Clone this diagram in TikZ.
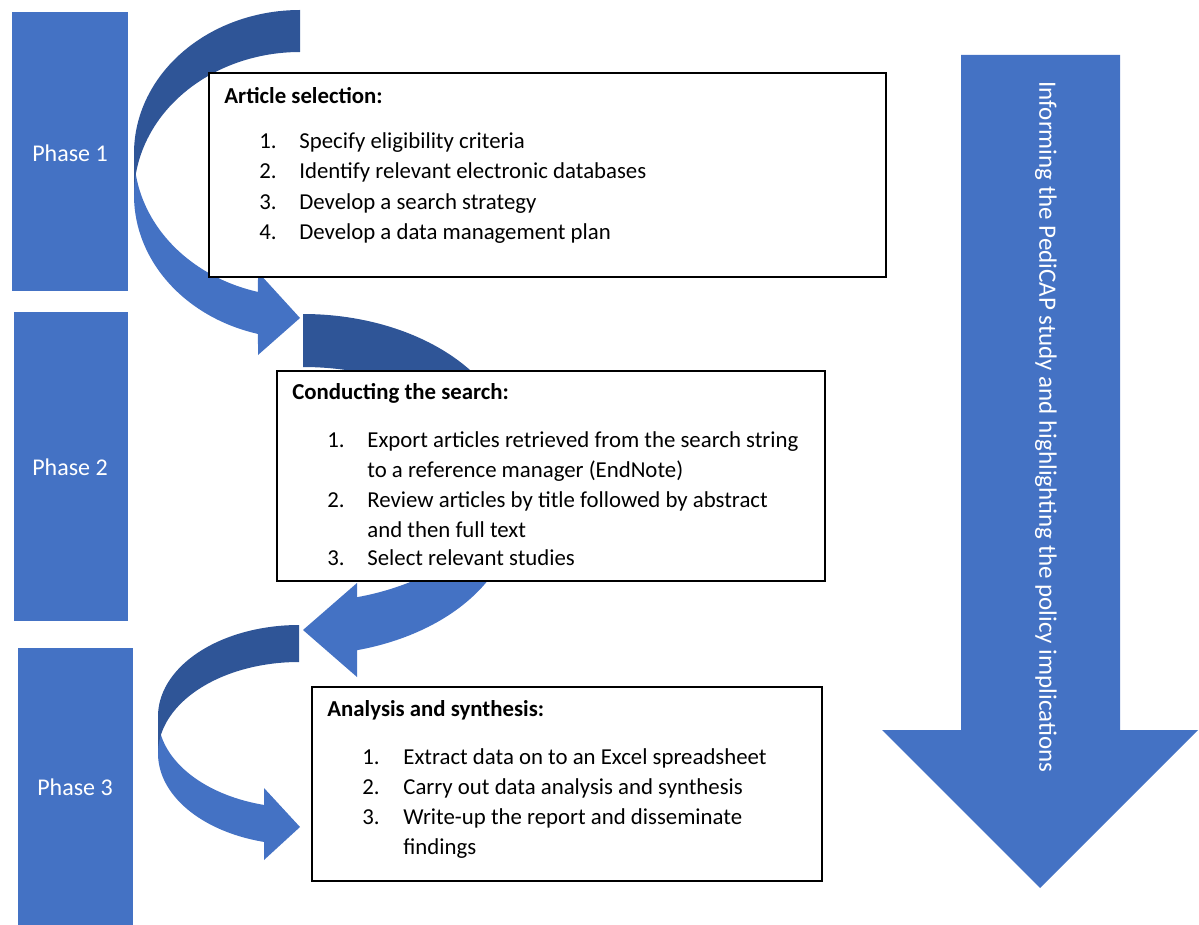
\documentclass[tikz,border=0pt]{standalone}
\usepackage{fontspec}
\setmainfont{Carlito}
\definecolor{accent}{HTML}{4472C4}
\definecolor{accentdark}{HTML}{2F5597}
\begin{document}
\begin{tikzpicture}[x=0.5pt,y=-0.5pt,
  phasebox/.style={fill=accent},
  stepbox/.style={draw=black, line width=0.7pt, fill=white},
  bodyfont/.style={font=\fontsize{11.4}{15}\selectfont},
  heading/.style={anchor=base west, inner sep=0pt, font=\fontsize{11.4}{15}\selectfont\bfseries},
  num/.style={anchor=base west, inner sep=0pt, bodyfont},
  item/.style={anchor=base west, inner sep=0pt, bodyfont},
  phaselabel/.style={text=white, inner sep=0pt, font=\fontsize{12}{14}\selectfont},
  front/.style={fill=accent},
  back/.style={fill=accentdark},
]
\useasboundingbox (0,0) rectangle (1199,925);

% phase bars
\path[phasebox] (12,12) rectangle (128,291);
\path[phasebox] (14,312) rectangle (128,621);
\path[phasebox] (18,648) rectangle (133,925);
\node[phaselabel] (p1) at (70,153) {Phase 1};
\node[phaselabel] (p2) at (70,467) {Phase 2};
\node[phaselabel] (p3) at (75,787) {Phase 3};

% curved arrow from phase 1 to phase 2 (front face, then back face)
\fill[front] plot[domain=180:104.66,samples=60] ({300+166*cos(\x)},{153.3+143.3*sin(\x)})
  -- (258,272) -- (300,318) -- (258,355)
  -- plot[domain=104.66:180,samples=60] ({300+166*cos(\x)},{195.3+143.3*sin(\x)}) -- cycle;
\fill[back] plot[domain=270:180,samples=60] ({300+166*cos(\x)},{153.3+143.3*sin(\x)})
  -- plot[domain=180:270,samples=60] ({300+166*cos(\x)},{195.3+143.3*sin(\x)}) -- cycle;

% curved arrow from phase 2 to phase 3
\fill[front] plot[domain=0:75.17,samples=60] ({303+211*cos(\x)},{458+144*sin(\x)})
  -- (357,583) -- (303,630) -- (357,677)
  -- plot[domain=75.17:0,samples=60] ({303+211*cos(\x)},{511+144*sin(\x)}) -- cycle;
\fill[back] plot[domain=270:360,samples=60] ({303+211*cos(\x)},{458+144*sin(\x)})
  -- plot[domain=360:270,samples=60] ({303+211*cos(\x)},{511+144*sin(\x)}) -- cycle;

% curved arrow within phase 3
\fill[front] plot[domain=180:104.37,samples=60] ({299+141*cos(\x)},{716.4+91.4*sin(\x)})
  -- (264,788) -- (300,827) -- (264,860)
  -- plot[domain=104.37:180,samples=60] ({299+141*cos(\x)},{753.4+91.4*sin(\x)}) -- cycle;
\fill[back] plot[domain=270:180,samples=60] ({299+141*cos(\x)},{716.4+91.4*sin(\x)})
  -- plot[domain=180:270,samples=60] ({299+141*cos(\x)},{753.4+91.4*sin(\x)}) -- cycle;

% step boxes
\draw[stepbox] (209,73) rectangle (886,277);
\draw[stepbox] (277,371) rectangle (825,581);
\draw[stepbox] (312,687) rectangle (822,881);

% article selection
\node[heading] (h1) at (224,104) {Article selection:};
\node[num] (a1n) at (259,149) {1.};
\node[item] (a1) at (299,149) {Specify eligibility criteria};
\node[num] (a2n) at (259,179) {2.};
\node[item] (a2) at (299,179) {Identify relevant electronic databases};
\node[num] (a3n) at (259,210) {3.};
\node[item] (a3) at (299,210) {Develop a search strategy};
\node[num] (a4n) at (259,240) {4.};
\node[item] (a4) at (299,240) {Develop a data management plan};

% conducting the search
\node[heading] (h2) at (292,399) {Conducting the search:};
\node[num] (b1n) at (327,447) {1.};
\node[item] (b1) at (367,447) {Export articles retrieved from the search string};
\node[item] (b1b) at (367,477) {to a reference manager (EndNote)};
\node[num] (b2n) at (327,507) {2.};
\node[item] (b2) at (367,507) {Review articles by title followed by abstract};
\node[item] (b2b) at (367,537) {and then full text};
\node[num] (b3n) at (327,565) {3.};
\node[item] (b3) at (367,565) {Select relevant studies};

% analysis and synthesis
\node[heading] (h3) at (327,716) {Analysis and synthesis:};
\node[num] (c1n) at (362,764) {1.};
\node[item] (c1) at (403,764) {Extract data on to an Excel spreadsheet};
\node[num] (c2n) at (362,794) {2.};
\node[item] (c2) at (403,794) {Carry out data analysis and synthesis};
\node[num] (c3n) at (362,824) {3.};
\node[item] (c3) at (403,824) {Write-up the report and disseminate};
\node[item] (c3b) at (403,854) {findings};

% downward arrow on the right
\fill[accent] (961,55) -- (1120,55) -- (1120,730) -- (1198,730) -- (1040,888)
  -- (882,730) -- (961,730) -- cycle;
\node[rotate=-90, text=white, inner sep=0pt, font=\fontsize{12.5}{15}\selectfont] (inf) at (1046,427)
  {Informing the PediCAP study and highlighting the policy implications};
\end{tikzpicture}
\end{document}
